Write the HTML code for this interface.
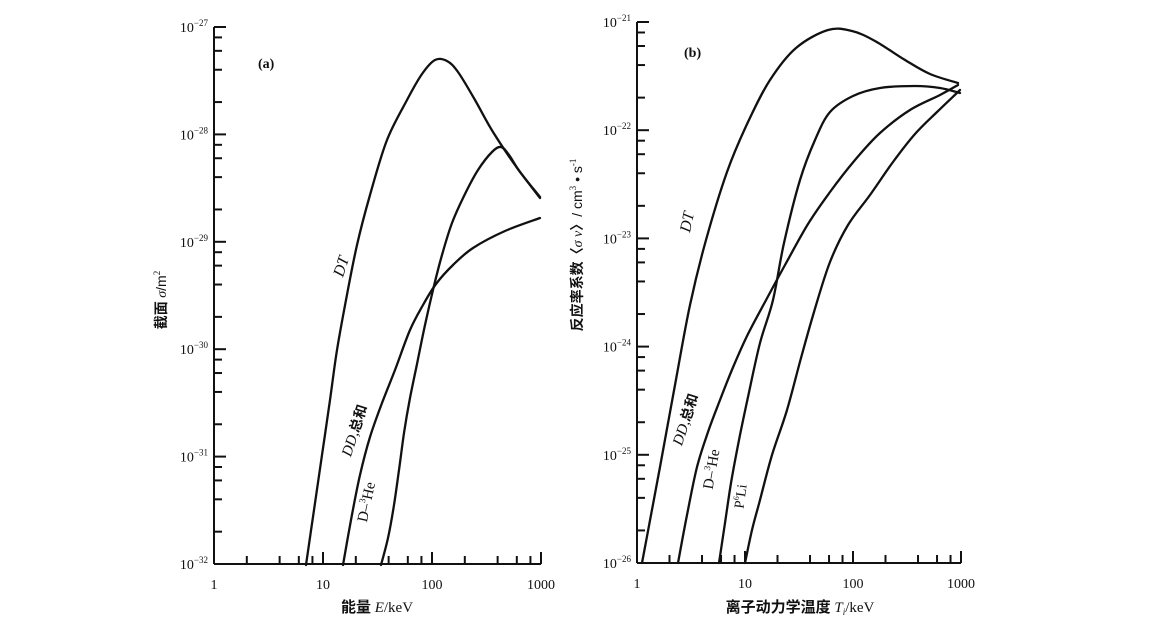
<!DOCTYPE html>
<html><head><meta charset="utf-8">
<style>
html,body{margin:0;padding:0;background:#fff;}
svg{display:block;}
text{font-family:"Liberation Serif","Noto Serif CJK SC",serif;fill:#111;}
.cj{font-family:"Liberation Serif","Noto Sans CJK SC",sans-serif;font-weight:bold;}
</style></head><body>
<svg id="s" width="1153" height="623" viewBox="0 0 1153 623" xmlns="http://www.w3.org/2000/svg">
<g id="cv" fill="none" stroke="#111" stroke-width="2.3" stroke-linejoin="round" stroke-linecap="round"></g>
<g id="ax" stroke="#111" stroke-width="2" fill="none"></g>
<g id="lb"></g>
<text x="258" y="68" font-size="14" font-weight="bold">(a)</text>
<text x="684" y="57" font-size="14" font-weight="bold">(b)</text>
<text x="0" y="0" font-size="16" font-style="italic" transform="translate(346,268) rotate(-72)" text-anchor="middle">DT</text>
<text x="0" y="0" font-size="15" transform="translate(359,432) rotate(-72)" text-anchor="middle"><tspan font-style="italic">DD,</tspan><tspan class="cj" font-size="14" font-weight="normal">总和</tspan></text>
<text x="0" y="0" font-size="15" transform="translate(371,503) rotate(-78)" text-anchor="middle">D–<tspan font-size="9" dy="-6">3</tspan><tspan dy="6">He</tspan></text>
<text x="0" y="0" font-size="16" font-style="italic" transform="translate(692,223) rotate(-78)" text-anchor="middle">DT</text>
<text x="0" y="0" font-size="15" transform="translate(690,421) rotate(-72)" text-anchor="middle"><tspan font-style="italic">DD,</tspan><tspan class="cj" font-size="14" font-weight="normal">总和</tspan></text>
<text x="0" y="0" font-size="15" transform="translate(716,470) rotate(-80)" text-anchor="middle">D–<tspan font-size="9" dy="-6">3</tspan><tspan dy="6">He</tspan></text>
<text x="0" y="0" font-size="14" transform="translate(745,497) rotate(-82)" text-anchor="middle">P<tspan font-size="8" dy="-6">6</tspan><tspan dy="6">Li</tspan></text>
<text class="cj" x="0" y="0" font-size="14" transform="translate(166,300) rotate(-90)" text-anchor="middle">截面 <tspan font-family="Liberation Serif,serif" font-style="italic" font-weight="normal">σ</tspan><tspan font-family="Liberation Sans,sans-serif" font-weight="normal">/m</tspan><tspan font-size="9" dy="-6" font-weight="normal">2</tspan></text>
<text class="cj" x="0" y="0" font-size="14" transform="translate(582,245) rotate(-90)" text-anchor="middle">反应率系数〈<tspan font-style="italic" font-weight="normal">σ v</tspan>〉<tspan font-family="Liberation Sans,sans-serif" font-weight="normal">/ cm</tspan><tspan font-size="9" dy="-6" font-weight="normal">3</tspan><tspan dy="6" font-family="Liberation Sans,sans-serif" font-weight="normal"> • s</tspan><tspan font-size="9" dy="-6" font-weight="normal">-1</tspan></text>
<text class="cj" x="377" y="612" font-size="15" text-anchor="middle">能量 <tspan font-style="italic" font-weight="normal" font-family="Liberation Serif,serif">E</tspan><tspan font-weight="normal" font-family="Liberation Serif,serif">/keV</tspan></text>
<text class="cj" x="800" y="612" font-size="15" text-anchor="middle">离子动力学温度 <tspan font-style="italic" font-weight="normal" font-family="Liberation Serif,serif">T<tspan font-size="9" dy="3">i</tspan></tspan><tspan dy="-3" font-weight="normal" font-family="Liberation Serif,serif">/keV</tspan></text>
</svg>
<script>
var NS='http://www.w3.org/2000/svg';
var ax=document.getElementById('ax'),lb=document.getElementById('lb'),cv=document.getElementById('cv');
function L(x1,y1,x2,y2){var e=document.createElementNS(NS,'line');e.setAttribute('x1',x1);e.setAttribute('y1',y1);e.setAttribute('x2',x2);e.setAttribute('y2',y2);ax.appendChild(e);}
function T(x,y,s,anchor,sz){var e=document.createElementNS(NS,'text');e.setAttribute('x',x);e.setAttribute('y',y);e.setAttribute('font-size',sz||13);e.setAttribute('text-anchor',anchor||'middle');e.innerHTML=s;lb.appendChild(e);}
function C(p){var d='M'+p[0][0]+','+p[0][1];
  for(var i=0;i<p.length-1;i++){var p0=p[i-1]||p[i],p1=p[i],p2=p[i+1],p3=p[i+2]||p2;
    var c1=[p1[0]+(p2[0]-p0[0])/6,p1[1]+(p2[1]-p0[1])/6],c2=[p2[0]-(p3[0]-p1[0])/6,p2[1]-(p3[1]-p1[1])/6];
    d+=' C'+c1[0].toFixed(1)+','+c1[1].toFixed(1)+' '+c2[0].toFixed(1)+','+c2[1].toFixed(1)+' '+p2[0]+','+p2[1];}
  var e=document.createElementNS(NS,'path');e.setAttribute('d',d);cv.appendChild(e);}
C([[306,565],[314,510],[322,455],[330,400],[337,350],[346,300],[357,245],[370,195],[387,140],[407,100],[422,74],[435,60],[447,61],[458,72],[475,100],[493,132],[515,165],[540,198]]);
C([[343,565],[351,520],[360,475],[370,437],[382,403],[395,370],[410,330],[423,305],[436,284],[453,265],[473,248],[505,231],[540,218]]);
C([[381,565],[388,538],[394,505],[399,470],[404,433],[410,398],[417,364],[425,325],[433,290],[442,255],[452,223],[464,196],[478,170],[492,152],[501,147],[509,155],[520,172],[540,197]]);
C([[642,563],[651,515],[660,467],[675,385],[690,305],[706,240],[727,172],[748,122],[770,80],[796,48],[828,30],[852,31],[875,41],[905,60],[930,74],[958,83]]);
C([[678,563],[687,515],[697,467],[708,432],[720,400],[734,365],[748,334],[765,302],[785,265],[808,224],[830,192],[855,160],[880,133],[910,110],[940,95],[958,85]]);
C([[719,563],[725,523],[731,483],[739,440],[748,397],[760,343],[773,300],[784,243],[800,180],[815,140],[830,112],[853,96],[880,88],[915,86],[940,88],[960,93]]);
C([[745,563],[752,530],[760,500],[772,455],[787,410],[801,358],[814,312],[830,262],[848,225],[870,195],[893,162],[915,134],[937,112],[960,90]]);
function panel(x0,x1,yb,yt,e0){
  var dx=(x1-x0)/3,dy=(yb-yt)/5;
  L(x0,yb,x1,yb);L(x0,yb,x0,yt);L(x1,yb,x1,yb-12);
  for(var d=0;d<3;d++)for(var m=1;m<10;m++){var x=x0+dx*(d+Math.log10(m));
    if(m==1){if(d>0)L(x,yb,x,yb-12);}else if(m==2||m==4||m==6||m==8)L(x,yb,x,yb-8);}
  var xl=['1','10','100','1000'];for(var i=0;i<4;i++)T(x0+dx*i,yb+25,xl[i],'middle',14);
  for(var d=0;d<=5;d++){var y=yb-dy*d;L(x0,y,x0+12,y);
    T(x0-6,y+5,'10<tspan font-size="9" dy="-6">−'+(e0-d)+'</tspan>','end',14);
    if(d<5)for(var m of [2,4,6,8]){var yy=y-dy*Math.log10(m);L(x0,yy,x0+8,yy);}}
}
panel(214,541,564,27,32);
panel(637,961,563,22,26);
</script>
</body></html>
